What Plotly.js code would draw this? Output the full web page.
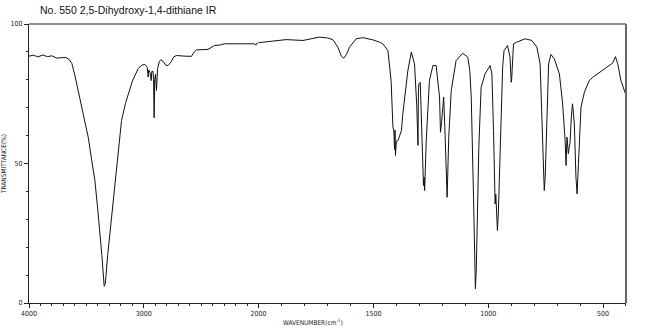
<!DOCTYPE html>
<html>
<head>
<meta charset="utf-8">
<script src="https://cdn.plot.ly/plotly-3.0.1.min.js"></script>
<style>html,body{margin:0;padding:0;background:#fff;}#chart{width:650px;height:329px;}</style>
</head>
<body>
<div id="chart"></div>
<script>
// High wavenumber region (4000-2000 cm-1)
const wnHigh = [4000,3960,3920,3880,3840,3800,3760,3720,3680,3650,3626,3600,3570,3542,3510,3484,3455,3426,3400,3383,3365,3345,3335,3315,3300,3281,3240,3194,3160,3136,3100,3049,3020,2991,2970,2962,2957,2945,2936,2930,2920,2915,2910,2905,2898,2890,2880,2865,2852,2830,2810,2789,2760,2740,2716,2650,2585,2560,2542,2441,2383,2330,2296,2194,2100,2035,2025,2015,2000];
const tHigh = [88.5,88.8,88.2,88.9,88.3,88.6,87.8,87.9,88.0,87.3,85.8,81.5,76,70.2,65,59.4,51.5,43.9,33,26,17,6,7,17,23,30.8,48,65.4,71.5,75,79.5,84,85.2,85.5,84.5,81.0,83.5,82.5,79.7,83,83,80,66.4,80,82,76.2,84,86.5,87.2,86.5,85.3,85.1,86.5,88.2,88.7,88.5,88.4,90,90.7,90.9,92.3,92.5,92.9,92.9,93.0,92.9,92.4,93.1,93.3];
// Low wavenumber region (2000-400 cm-1)
const wnLow = [2000,1952,1880,1807,1735,1700,1677,1655,1640,1630,1618,1604,1575,1546,1502,1474,1459,1437,1430,1423,1415,1411,1408,1406,1404,1400,1393,1385,1378,1372,1357,1350,1335,1321,1311,1308,1306,1304,1302,1296,1289,1282,1279,1277,1270,1256,1241,1227,1212,1208,1203,1201,1196,1194,1189,1186,1182,1179,1175,1172,1161,1140,1111,1089,1080,1074,1064,1060,1056,1052,1048,1041,1031,1014,992,984,977,972,970,967,964,962,960,956,952,941,937,931,916,905,902,900,898,896,890,876,868,839,810,788,774,767,762,759,756,752,747,737,727,712,690,676,665,661,657,654,651,647,644,638,633,629,625,618,613,607,596,581,560,545,516,487,458,446,436,422,407,400];
const tLow = [93.3,93.7,94.4,94.1,95.3,95.0,94.4,91.7,88.6,87.7,89,91.7,94.7,95.1,94.3,93.5,92.9,90.5,85.7,79.7,63,61.8,55,62,52.9,58,58.2,60,61.8,67.8,79.7,83.3,89.9,85.7,70.2,60,56.5,76,78.6,79.1,61.8,42.1,45,40.3,58.2,79.7,85.1,85.1,73.8,61.2,65,67.8,72,73.8,63,55.8,47,37.9,50,59.4,76.2,86.9,89.5,88.1,83,73.8,37.9,20,5.1,12,26,55.8,77.3,82.1,85.1,82.1,61.8,40,35.5,39,33.1,30,26,32,43.9,73.8,85,90.5,92.3,88.1,84,79.1,80,83.3,92.9,93.5,93.8,94.7,94.1,91.7,85.7,67.8,47.5,44,40.3,45.1,61.8,85.7,89.1,87.5,82.1,71.4,58.2,49.3,59.4,55,53.5,56,57.1,66.6,71.4,68,64.2,45.1,39.1,49.9,70.2,75.6,79.7,80.9,82.7,84.5,86,88.3,85.7,79.7,75.6,74.5];

const xTickHigh = [4000,3000,2000];
const xTextHigh = ['4000','3000','2000'];
const xTickLow = [1500,1000,500];
const xTextLow = ['1500','1000','500'];
const yTicks = [0,50,100];
const yText = ['0','50','100'];

const lineStyle = {color:'#111', width:1};
const tickFont = {family:'DejaVu Sans Condensed, DejaVu Sans', size:7, color:'#222'};
const split = 2000/5200;

const traces = [
  {x:wnHigh, y:tHigh, xaxis:'x', yaxis:'y', mode:'lines', line:lineStyle, hoverinfo:'skip'},
  {x:wnLow, y:tLow, xaxis:'x2', yaxis:'y', mode:'lines', line:lineStyle, hoverinfo:'skip'}
];

const axCommon = {
  showgrid:false, zeroline:false, showline:true, linecolor:'#222', linewidth:1,
  ticks:'outside', ticklen:4, tickcolor:'#222', tickwidth:1, tickfont:tickFont,
  tickmode:'array', fixedrange:true,
  minor:{ticks:'outside', ticklen:2, tickcolor:'#222', dtick:100, showgrid:false}
};

const layout = {
  width:650, height:329,
  margin:{l:29, r:24, t:24, b:26, pad:0},
  paper_bgcolor:'#fff', plot_bgcolor:'#fff',
  showlegend:false,
  title:{text:'No. 550 2,5-Dihydroxy-1,4-dithiane IR', xref:'container', yref:'container', x:40/650, xanchor:'left', y:1-10/329, yanchor:'middle', font:{family:'Liberation Sans, Arial', size:10.5, color:'#111'}},
  xaxis:Object.assign({}, axCommon, {domain:[0, split], range:[4000,2000], anchor:'y', tickvals:xTickHigh, ticktext:xTextHigh}),
  xaxis2:Object.assign({}, axCommon, {domain:[split, 1], range:[2000,400], anchor:'y', tickvals:xTickLow, ticktext:xTextLow}),
  yaxis:Object.assign({}, axCommon, {range:[0,100], tickvals:yTicks, ticktext:yText, minor:{ticks:'outside', ticklen:2, tickcolor:'#222', dtick:10, showgrid:false},
    title:{text:'TRANSMITTANCE(%)', font:{family:'DejaVu Sans Condensed, DejaVu Sans', size:6.5, color:'#222'}, standoff:6}}),
  shapes:[
    {type:'line', xref:'paper', yref:'paper', x0:0, x1:1, y0:1, y1:1, line:{color:'#222', width:1}},
    {type:'line', xref:'paper', yref:'paper', x0:1, x1:1, y0:0, y1:1, line:{color:'#666', width:2}}
  ],
  annotations:[
    {text:'WAVENUMBER(cm<sup>-1</sup>)', xref:'paper', yref:'paper', x:(313-29)/597, y:0, yshift:-19, xanchor:'center', yanchor:'middle', showarrow:false, font:{family:'DejaVu Sans Condensed, DejaVu Sans', size:6.5, color:'#222'}}
  ]
};

Plotly.newPlot('chart', traces, layout, {staticPlot:true, displayModeBar:false});
</script>
</body>
</html>
